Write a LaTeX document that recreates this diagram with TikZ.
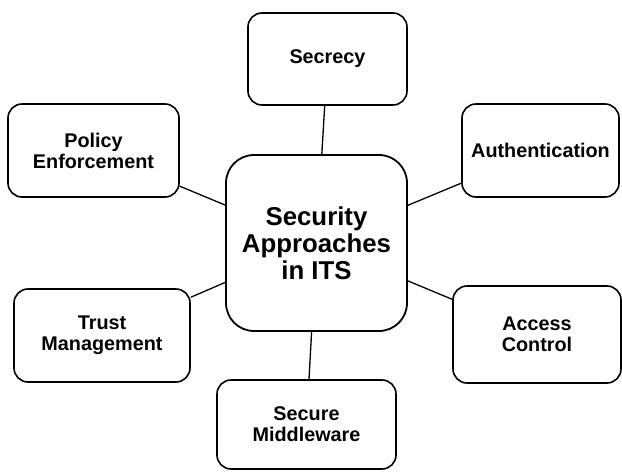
\documentclass[tikz,border=0pt]{standalone}
\usepackage{fontspec}
\setmainfont{Liberation Sans}
\usepackage{xcolor}

\begin{document}
\begin{tikzpicture}[x=1pt, y=-1pt,
  approach/.style={rectangle, draw, line width=1.6pt, rounded corners=14pt, align=center, inner sep=0pt,
    font=\fontsize{19.8}{21}\selectfont\bfseries},
  hub/.style={rectangle, draw, line width=1.8pt, rounded corners=28pt, align=center, inner sep=0pt,
    minimum width=181pt, minimum height=176pt, font=\fontsize{25.8}{27}\selectfont\bfseries},
  link/.style={line width=1.3pt}]
\useasboundingbox (0,0) rectangle (622,472);
\node (its) [hub] at (316.5,243) {Security\\Approaches\\in ITS};
\node (secrecy) [approach, minimum width=159pt, minimum height=92pt] at (327.5,59) {Secrecy};
\node (auth) [approach, minimum width=157pt, minimum height=93pt] at (540.5,150.5) {Authentication};
\node (policy) [approach, minimum width=171pt, minimum height=93pt] at (93.5,150.5) {Policy\\Enforcement};
\node (trust) [approach, minimum width=176pt, minimum height=93pt] at (102,335.5) {Trust\\Management};
\node (access) [approach, minimum width=168pt, minimum height=97pt] at (537,334.5) {Access\\Control};
\node (middleware) [approach, minimum width=179pt, minimum height=89pt] at (306.5,424.5) {Secure\\Middleware};

\draw [link] (its) -- (secrecy);
\draw [link] (its) -- (auth);
\draw [link] (its) -- (policy);
\draw [link] (its) -- (trust);
\draw [link] (its) -- (access);
\draw [link] (its) -- (middleware);
\end{tikzpicture}
\end{document}
